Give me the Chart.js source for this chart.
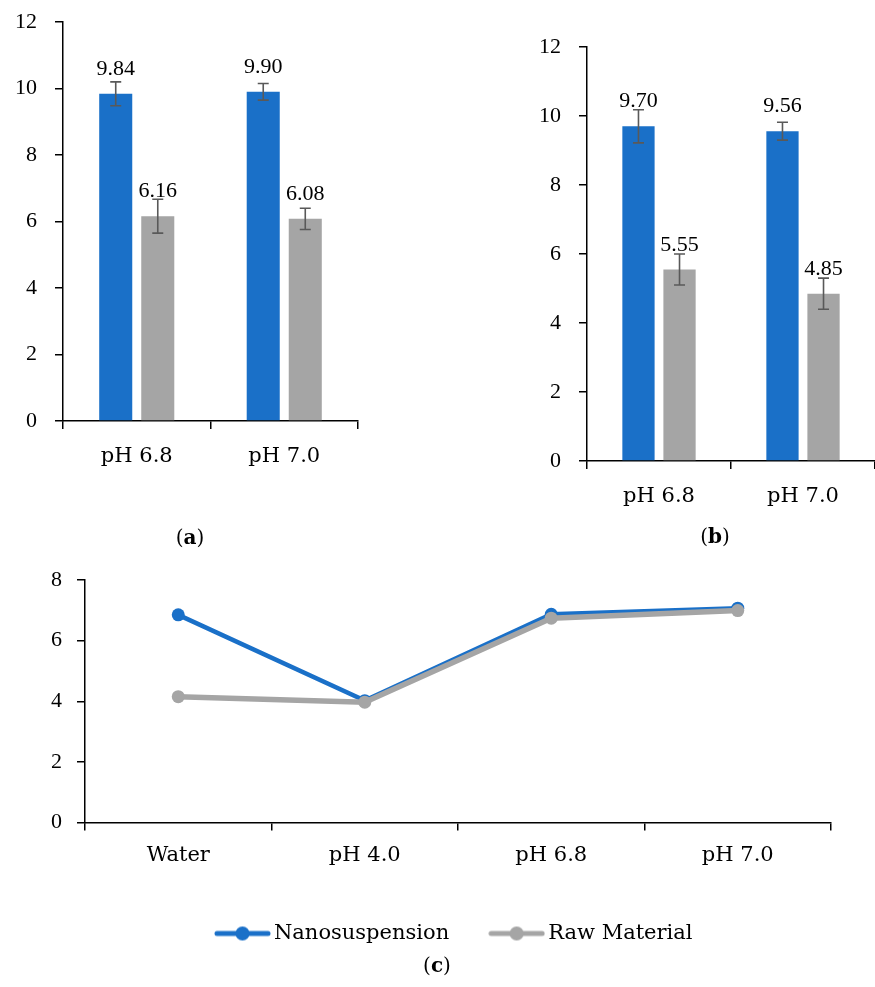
<!DOCTYPE html>
<html>
<head>
<meta charset="utf-8">
<script src="https://cdn.jsdelivr.net/npm/chart.js@4/dist/chart.umd.min.js"></script>
<style>
  body { margin: 0; background: #fff; }
  #page { position: relative; width: 875px; height: 987px; overflow: hidden; font-family: 'DejaVu Serif', serif; }
  canvas { position: absolute; }
  .cap { position: absolute; font-size: 20px; transform: translate(-50%, -50%); color: #000; }
</style>
</head>
<body>
<div id="page">
  <canvas id="chartA" width="370" height="490" style="left:0;top:-10px"></canvas>
  <canvas id="chartB" width="375" height="520" style="left:500px;top:0"></canvas>
  <canvas id="chartC" width="836" height="413" style="left:39px;top:545px"></canvas>
  <div class="cap" style="left:190px;top:537px">(<b>a</b>)</div>
  <div class="cap" style="left:715px;top:536px">(<b>b</b>)</div>
  <div class="cap" style="left:437px;top:965px">(<b>c</b>)</div>
</div>
<script>
// bar panels (a) and (b)
const barLabels = ['pH 6.8', 'pH 7.0'];
const nanoA = [9.84, 9.90];
const nanoErrA = [0.36, 0.25];
const rawA = [6.16, 6.08];
const rawErrA = [0.51, 0.32];
const nanoB = [9.70, 9.56];
const nanoErrB = [0.48, 0.26];
const rawB = [5.55, 4.85];
const rawErrB = [0.45, 0.45];

// line panel (c)
const lineLabels = ['Water', 'pH 4.0', 'pH 6.8', 'pH 7.0'];
const nanoC = [6.85, 4.02, 6.87, 7.07];
const rawC = [4.15, 3.97, 6.74, 6.99];

const BLUE = '#1a70c8';
const GREY = '#a5a5a5';
const NUM_FONT = { family: "'Liberation Serif', serif", size: 22 };
const TXT_FONT = { family: "'DejaVu Serif', serif", size: 21 };

Chart.defaults.font.family = "'DejaVu Serif', serif";
Chart.defaults.font.size = 21;
Chart.defaults.color = '#000';
Chart.defaults.animation = false;

// error bars + value labels on top of the bars
const errorBars = {
  id: 'errorBars',
  afterDatasetsDraw(chart) {
    const ctx = chart.ctx;
    const y = chart.scales.y;
    chart.data.datasets.forEach(function(ds, i) {
      const meta = chart.getDatasetMeta(i);
      meta.data.forEach(function(bar, j) {
        const v = ds.data[j];
        const e = ds.errors[j];
        const top = y.getPixelForValue(v + e);
        const bot = y.getPixelForValue(v - e);
        ctx.save();
        ctx.strokeStyle = '#595959';
        ctx.lineWidth = 1.6;
        ctx.beginPath();
        ctx.moveTo(bar.x, top); ctx.lineTo(bar.x, bot);
        ctx.moveTo(bar.x - 5.5, top); ctx.lineTo(bar.x + 5.5, top);
        ctx.moveTo(bar.x - 5.5, bot); ctx.lineTo(bar.x + 5.5, bot);
        ctx.stroke();
        ctx.fillStyle = '#000';
        ctx.font = "22px 'Liberation Serif'";
        ctx.textAlign = 'center';
        ctx.textBaseline = 'alphabetic';
        ctx.fillText(v.toFixed(2), bar.x, bar.y - 19);
        ctx.restore();
      });
    });
  }
};

function axisGrid() {
  return { drawOnChartArea: false, drawTicks: true, tickLength: 8, color: '#000', lineWidth: 1.5 };
}

function makeBarChart(id, nano, nanoErr, raw, rawErr, yWidth, padTop, padRight, xHeight) {
  const ctx = document.getElementById(id).getContext('2d');
  return new Chart(ctx, {
    type: 'bar',
    data: {
      labels: barLabels,
      datasets: [
        { label: 'Nanosuspension', data: nano, errors: nanoErr, backgroundColor: BLUE,
          categoryPercentage: 0.57, barPercentage: 0.786 },
        { label: 'Raw Material', data: raw, errors: rawErr, backgroundColor: GREY,
          categoryPercentage: 0.57, barPercentage: 0.786 }
      ]
    },
    options: {
      responsive: false,
      layout: { padding: { top: padTop, right: padRight, left: 0, bottom: 0 } },
      plugins: { legend: { display: false }, tooltip: { enabled: false } },
      scales: {
        x: {
          grid: Object.assign(axisGrid(), { offset: true }),
          border: { color: '#000', width: 1.5 },
          ticks: { padding: 15, font: TXT_FONT },
          afterFit: function(s) { s.height = xHeight; }
        },
        y: {
          min: 0, max: 12,
          grid: axisGrid(),
          border: { color: '#000', width: 1.5 },
          ticks: { stepSize: 2, padding: 18, font: NUM_FONT },
          afterFit: function(s) { s.width = yWidth; }
        }
      }
    },
    plugins: [errorBars]
  });
}

makeBarChart('chartA', nanoA, nanoErrA, rawA, rawErrA, 63, 32, 12, 59);
makeBarChart('chartB', nanoB, nanoErrB, rawB, rawErrB, 87, 47, 0, 59);

// legend swatch: a short line with a dot in the middle
function swatch(color) {
  const c = document.createElement('canvas');
  c.width = 57; c.height = 16;
  const g = c.getContext('2d');
  g.strokeStyle = color; g.lineWidth = 5; g.lineCap = 'round';
  g.beginPath(); g.moveTo(3, 8); g.lineTo(54, 8); g.stroke();
  g.fillStyle = color;
  g.beginPath(); g.arc(28.5, 8, 7, 0, Math.PI * 2); g.fill();
  return c;
}

const ctxC = document.getElementById('chartC').getContext('2d');
new Chart(ctxC, {
  type: 'line',
  data: {
    labels: lineLabels,
    datasets: [
      { label: 'Nanosuspension', data: nanoC, borderColor: BLUE, backgroundColor: BLUE,
        borderWidth: 4.5, pointRadius: 6.5, pointBorderWidth: 0, order: 1 },
      { label: 'Raw Material', data: rawC, borderColor: GREY, backgroundColor: GREY,
        borderWidth: 5.5, pointRadius: 6.5, pointBorderWidth: 0, order: 0 }
    ]
  },
  options: {
    responsive: false,
    layout: { padding: { top: 35, right: 0, left: 0, bottom: 4 } },
    plugins: {
      tooltip: { enabled: false },
      legend: {
        position: 'bottom',
        labels: {
          usePointStyle: true,
          pointStyleWidth: 42,
          padding: 46.5,
          font: TXT_FONT,
          generateLabels: function(chart) {
            return chart.data.datasets.map(function(ds, i) {
              return { text: ds.label, pointStyle: swatch(ds.borderColor),
                       fillStyle: ds.borderColor, strokeStyle: ds.borderColor, lineWidth: 0,
                       datasetIndex: i, hidden: false, fontColor: '#000' };
            });
          }
        }
      }
    },
    scales: {
      x: {
        offset: true,
        grid: Object.assign(axisGrid(), { offset: true }),
        border: { color: '#000', width: 1.5 },
        ticks: { padding: 12, font: TXT_FONT },
        afterFit: function(s) { s.height = 54; }
      },
      y: {
        min: 0, max: 8,
        grid: axisGrid(),
        border: { color: '#000', width: 1.5 },
        ticks: { stepSize: 2, padding: 15, font: NUM_FONT },
        afterFit: function(s) { s.width = 46; }
      },
      // empty right-hand box so the plot ends short of the canvas edge
      yRight: {
        position: 'right',
        display: true,
        grid: { display: false },
        border: { display: false },
        ticks: { display: false },
        afterFit: function(s) { s.width = 44; }
      }
    }
  }
});
</script>
</body>
</html>
